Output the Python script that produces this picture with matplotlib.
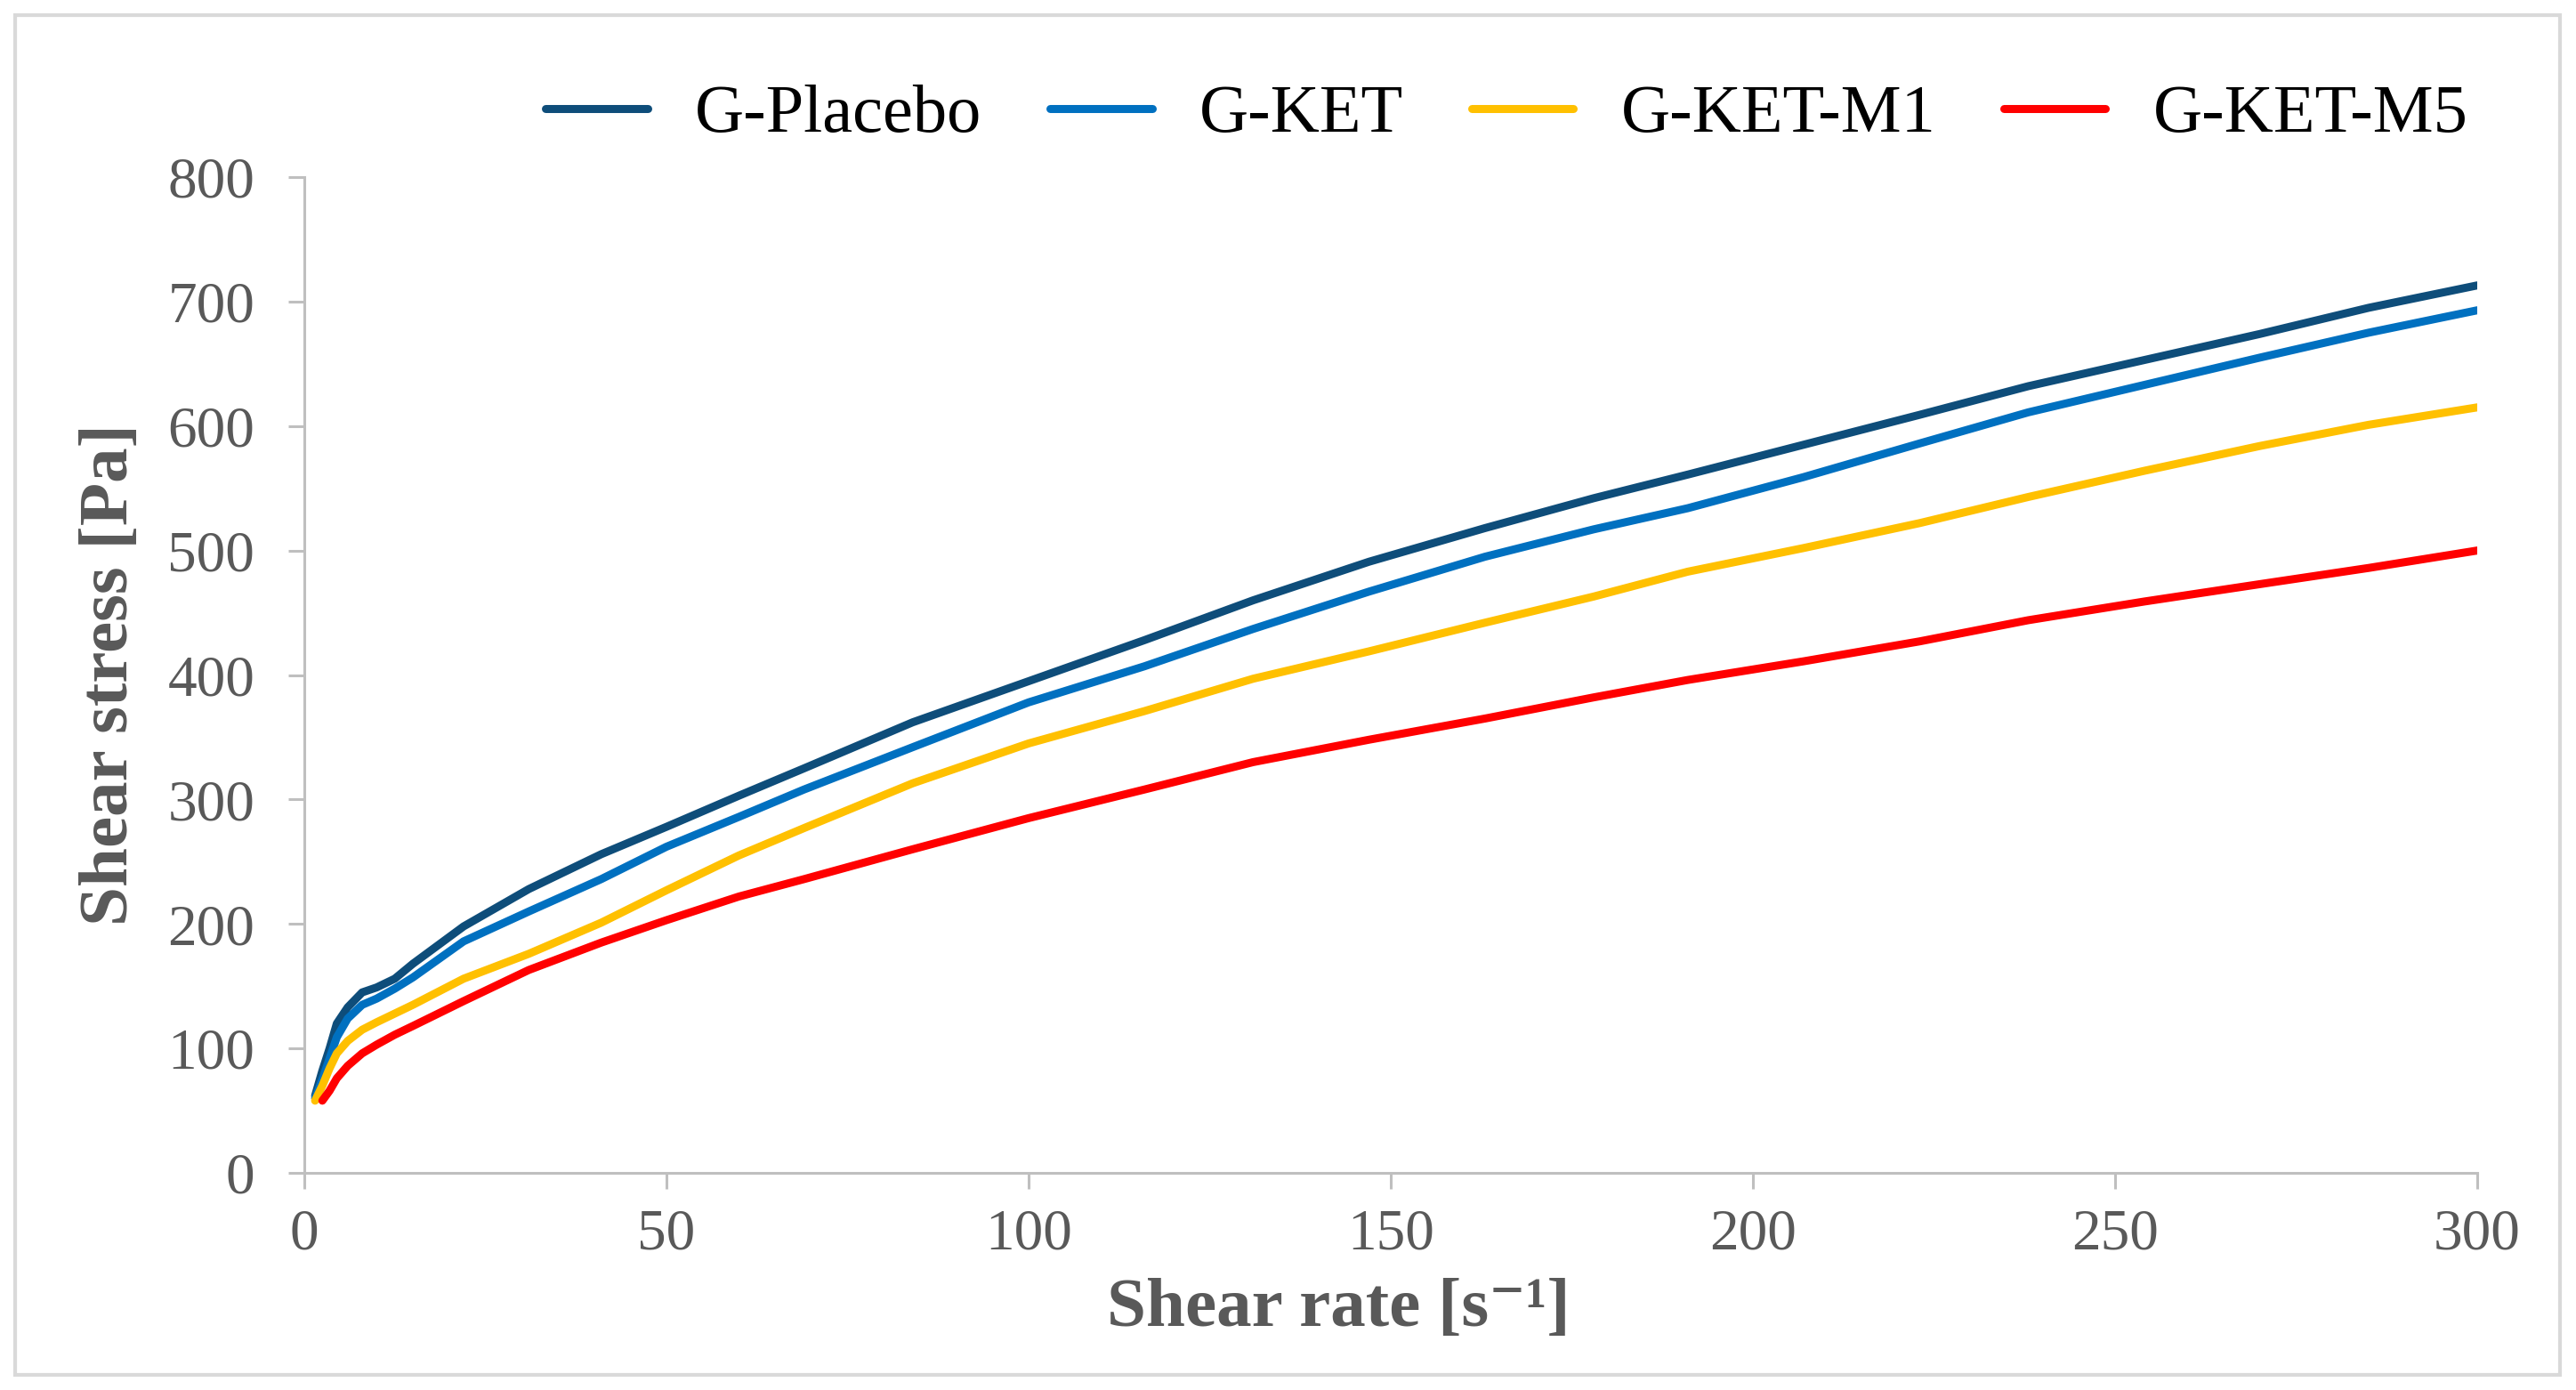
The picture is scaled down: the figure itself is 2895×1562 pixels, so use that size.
import numpy as np
import matplotlib
matplotlib.use('Agg')
import matplotlib.pyplot as plt
from matplotlib.patches import Rectangle

shear_rate = [1.5, 2.5, 3.5, 4.5, 6, 8, 10, 12.5, 15, 22, 31, 41, 50, 60, 69,
              84, 100, 116, 131, 147, 163, 178, 191, 207, 223, 238, 254, 270,
              285, 300]

g_placebo = [62, 82, 100, 120, 133, 145, 149, 156, 168, 198, 228, 256, 278,
             303, 325, 362, 395, 428, 460, 491, 518, 542, 561, 585, 609, 632,
             653, 674, 695, 713]
g_ket = [60, 75, 92, 109, 124, 135, 140, 148, 157, 186, 210, 236, 262, 286,
         308, 342, 378, 407, 437, 467, 495, 517, 534, 559, 586, 611, 633, 655,
         675, 693]
g_ket_m1 = [58, 70, 84, 96, 106, 115, 121, 128, 135, 156, 176, 201, 227, 255,
            277, 313, 345, 371, 397, 419, 442, 463, 483, 502, 522, 543, 564,
            584, 601, 615]
g_ket_m5 = [np.nan, 58, 66, 76, 86, 96, 103, 111, 118, 138, 163, 185, 203,
            222, 236, 260, 285, 308, 330, 348, 365, 382, 396, 411, 427, 444,
            459, 473, 486, 500]

series_names = ['G-Placebo', 'G-KET', 'G-KET-M1', 'G-KET-M5']
series_colors = ['#0E4D7A', '#0070C0', '#FFC000', '#FF0000']

x_ticks = [0, 50, 100, 150, 200, 250, 300]
y_ticks = [0, 100, 200, 300, 400, 500, 600, 700, 800]

plt.rcParams['font.family'] = ['Liberation Serif', 'DejaVu Serif']

fig = plt.figure(figsize=(28.95, 15.62), dpi=100)
ax = fig.add_axes([0.1181, 0.1562, 0.8436, 0.7164])

for values, name, color in zip([g_placebo, g_ket, g_ket_m1, g_ket_m5],
                               series_names, series_colors):
    ax.plot(shear_rate, values, color=color, lw=6.5, label=name,
            solid_capstyle='round', solid_joinstyle='round')

ax.set_xlim(0, 300)
ax.set_ylim(0, 800)
ax.set_xticks(x_ticks)
ax.set_yticks(y_ticks)

# Оформление осей в стиле Excel
grey = '#BFBFBF'
for side in ['top', 'right']:
    ax.spines[side].set_visible(False)
for side in ['left', 'bottom']:
    ax.spines[side].set_color(grey)
    ax.spines[side].set_linewidth(2.2)
ax.tick_params(axis='both', direction='out', length=13, width=2.2,
               color=grey, labelsize=47, labelcolor='#595959')
ax.tick_params(axis='y', pad=27)
ax.tick_params(axis='x', pad=16)

ax.set_xlabel('Shear rate [s⁻¹]', fontsize=57, fontweight='bold',
              color='#595959')
ax.set_ylabel('Shear stress [Pa]', fontsize=57, fontweight='bold',
              color='#595959')
ax.xaxis.set_label_coords(0.476, -0.105)
ax.yaxis.set_label_coords(-0.0745, 0.5)

leg = ax.legend(loc='center', bbox_to_anchor=(0.585, 0.917),
                bbox_transform=fig.transFigure, ncol=4, frameon=False,
                fontsize=55, handlelength=1.5, handletextpad=0.7,
                columnspacing=1.0)
for line in leg.get_lines():
    line.set_linewidth(6.5)

# Рамка вокруг всего рисунка
fig.patches.append(Rectangle((17 / 2895, 1 - 1545 / 1562),
                             (2877 - 17) / 2895, (1545 - 17) / 1562,
                             transform=fig.transFigure, fill=False,
                             ec='#D9D9D9', lw=3))

fig.savefig('out.png', dpi=100)
